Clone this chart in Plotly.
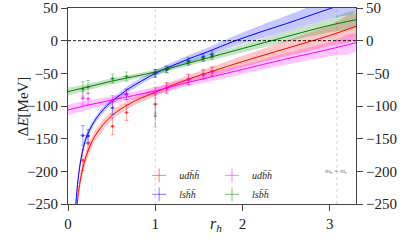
import plotly.graph_objects as go

# ---------------- data ----------------
# fitted curves and their band half-widths
r_red = [0.105, 0.12, 0.15, 0.2, 0.25, 0.3, 0.4, 0.5, 0.6, 0.7, 0.8, 1.0, 1.2, 1.4, 1.65, 2.0, 2.5, 3.0, 3.3]
E_red = [-250, -232, -207, -180, -162, -148, -129, -115, -105, -97, -90, -79, -68, -58, -47, -32, -12, 8, 22]
hw_red = [12, 11, 10, 9, 9, 8, 8, 7, 7, 6, 6, 6, 6, 6, 7, 9, 12, 16, 19]

r_blue = [0.09, 0.1, 0.12, 0.15, 0.2, 0.25, 0.3, 0.4, 0.5, 0.6, 0.7, 0.8, 1.0, 1.2, 1.4, 1.6, 1.9, 2.2, 2.5, 3.0, 3.3]
E_blue = [-250, -233, -207, -180, -152, -136, -124, -106, -93, -83, -73, -65, -50, -38, -27, -17, -1, 13, 26, 49, 62]
hw_blue = [10, 9, 8, 7, 6, 6, 5, 5, 5, 5, 5, 5, 5, 5, 6, 6, 8, 10, 12, 15, 17]

r_green = [0, 0.25, 0.5, 0.75, 1.0, 1.25, 1.5, 1.75, 2.0, 2.25, 2.5, 2.75, 3.0, 3.3]
E_green = [-78, -70, -62, -55, -48, -39, -30, -21, -12, -3, 6, 15, 23.5, 32]
hw_green = [6, 5, 4.5, 4, 4, 4, 4.5, 5, 6, 7, 8, 9, 10.5, 12]

r_mag = [0, 0.25, 0.5, 0.75, 1.0, 1.25, 1.5, 1.75, 2.0, 2.5, 3.0, 3.3]
E_mag = [-106, -98, -91, -84, -77, -68, -60, -52, -44, -28, -13, -3]
hw_mag = [8, 7, 6, 6, 6, 6, 6, 7, 7, 9, 11, 13]

# lattice data points
pts_r = [0.17, 0.23, 0.51, 0.67, 1.0, 1.13, 1.38, 1.55, 1.65]
red_E = [-183, -157, -131, -110, -97, -72, -59, -52, -47]
red_err = [16, 12, 13, 12, 14, 8, 8, 7, 7]
blue_E = [-145, -146, -103, -82, -50, -44, -31, -25, -21]
blue_err = [15, 10, 10, 8, 6, 5, 5, 5, 5]
green_E = [-74, -71, -58, -55, -50, -44, -33, -27, -24]
green_err = [11, 10, 7, 7, 6, 5, 5, 5, 5]
mag_E = [-88, -89, -92, -82, -80, -73, -60, -51, -48]
mag_err = [10, 9, 8, 8, 8, 8, 8, 7, 7]
r_err = 0.03

other_r = [1.0]
other_E = [-115]
other_err = [17]

labels = ["<i>udh̄h̄</i>", "<i>lsh̄h̄</i>", "<i>udb̄h̄</i>", "<i>lsb̄h̄</i>"]
x_ticks = [0, 1, 2, 3]
y_ticks = [50, 0, -50, -100, -150, -200, -250]
r_mbmc = 3.08

# ---------------- figure ----------------
fig = go.Figure()

series = [
    (r_red, E_red, hw_red, red_E, red_err, (255, 0, 0), labels[0], "legend"),
    (r_blue, E_blue, hw_blue, blue_E, blue_err, (0, 0, 255), labels[1], "legend"),
    (r_mag, E_mag, hw_mag, mag_E, mag_err, (255, 0, 255), labels[2], "legend2"),
    (r_green, E_green, hw_green, green_E, green_err, (0, 128, 0), labels[3], "legend2"),
]

def rgba(c, a):
    return f"rgba({c[0]},{c[1]},{c[2]},{a})"

# bands
for r, E, hw, _, _, c, _, _ in series:
    up = [e + h for e, h in zip(E, hw)]
    lo = [e - h for e, h in zip(E, hw)]
    fig.add_trace(go.Scatter(
        x=r + r[::-1], y=up + lo[::-1], mode="lines", fill="toself",
        fillcolor=rgba(c, 0.22), line=dict(width=0, shape="spline"),
        hoverinfo="skip", showlegend=False))

# lines
for r, E, hw, _, _, c, _, _ in series:
    fig.add_trace(go.Scatter(
        x=r, y=E, mode="lines", line=dict(color=rgba(c, 1), width=1, shape="spline"),
        showlegend=False))

# points
for _, _, _, pE, perr, c, name, lg in series:
    fig.add_trace(go.Scatter(
        x=pts_r, y=pE, mode="markers",
        marker=dict(size=3, color=rgba(c, 0.6)),
        error_y=dict(type="data", array=perr, color=rgba(c, 0.35), thickness=1, width=2),
        error_x=dict(type="constant", value=r_err, color=rgba(c, 0.35), thickness=1, width=0),
        showlegend=False))
    fig.add_trace(go.Scatter(
        x=[None], y=[None], mode="markers", name=name, legend=lg,
        marker=dict(symbol="cross-thin", size=10, color=rgba(c, 0.6),
                    line=dict(width=1, color=rgba(c, 0.5)))))

fig.add_trace(go.Scatter(
    x=other_r, y=other_E, mode="markers",
    marker=dict(size=3, color="rgba(80,80,80,0.6)"),
    error_y=dict(type="data", array=other_err, color="rgba(80,80,80,0.35)", thickness=1, width=2),
    showlegend=False))

# invisible trace for right axis
fig.add_trace(go.Scatter(x=[None], y=[None], yaxis="y2", showlegend=False))

# reference lines
fig.add_shape(type="line", xref="x", yref="paper", x0=1, x1=1, y0=0, y1=1,
              line=dict(color="#cccccc", width=0.8, dash="dot"), layer="below")
fig.add_shape(type="line", xref="x", yref="paper", x0=r_mbmc, x1=r_mbmc, y0=0, y1=1,
              line=dict(color="#cccccc", width=0.8, dash="dot"), layer="below")
fig.add_shape(type="line", xref="paper", yref="y", x0=0, x1=1, y0=0, y1=0,
              line=dict(color="black", width=0.9, dash="3px,2px"))

font_family = "Liberation Serif"

fig.add_annotation(x=r_mbmc, y=-200, xref="x", yref="y",
                   text="<i>m</i><sub>b</sub> = <i>m</i><sub>c</sub>",
                   showarrow=False, font=dict(size=7, color="#777", family=font_family))
# axis titles
fig.add_annotation(x=-0.19, y=0.5, xref="paper", yref="paper", textangle=-90,
                   text="Δ<i>E</i>[MeV]", showarrow=False,
                   font=dict(size=15, color="#222", family=font_family))
fig.add_annotation(x=0.515, y=-0.165, xref="paper", yref="paper",
                   text="<i>r</i><sub><i>h</i></sub>", showarrow=False,
                   font=dict(size=16, color="#222", family=font_family))

axis_common = dict(showline=True, linecolor="#444", linewidth=1, ticks="outside",
                   tickcolor="#444", ticklen=6, tickwidth=1, showgrid=False, zeroline=False,
                   automargin=False,
                   tickfont=dict(size=15, color="#222", family=font_family))

fig.update_layout(
    width=407, height=251,
    margin=dict(l=68, r=51, t=8, b=47, autoexpand=False),
    paper_bgcolor="white", plot_bgcolor="white",
    font=dict(family=font_family, color="#222"),
    xaxis=dict(range=[0, 3.3], tickvals=x_ticks, mirror=True, **axis_common),
    yaxis=dict(range=[-250, 50], tickvals=y_ticks, **axis_common),
    yaxis2=dict(range=[-250, 50], tickvals=y_ticks, overlaying="y", side="right",
                **axis_common),
    legend=dict(x=0.247, y=0.22, xanchor="left", yanchor="top", bgcolor="rgba(0,0,0,0)",
                font=dict(size=10, family=font_family), tracegroupgap=0, itemwidth=30),
    legend2=dict(x=0.5, y=0.22, xanchor="left", yanchor="top", bgcolor="rgba(0,0,0,0)",
                 font=dict(size=10, family=font_family), tracegroupgap=0, itemwidth=30),
)

fig.write_html("out.html", config={"displayModeBar": False},
               post_script="document.body.style.margin='0';document.body.style.padding='0';")
